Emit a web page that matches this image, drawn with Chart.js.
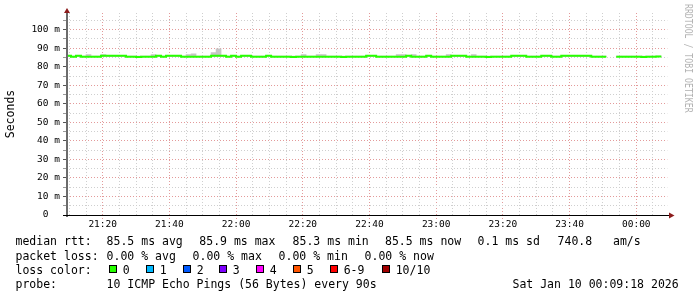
<!DOCTYPE html>
<html>
<head>
<meta charset="utf-8">
<script src="https://cdn.jsdelivr.net/npm/chart.js@4.4.1/dist/chart.umd.min.js"></script>
<style>
html,body{margin:0;padding:0;background:#fff;width:697px;height:297px;overflow:hidden;}
#wrap{position:relative;width:697px;height:297px;}
#c{position:absolute;left:0;top:0;}
.t{position:absolute;font-family:'DejaVu Sans Mono',monospace;font-size:11.5px;line-height:14.1px;white-space:pre;color:#000;}
.box{position:absolute;top:265px;width:8px;height:8px;box-sizing:border-box;border:1px solid #000;}
#wm{position:absolute;left:692.8px;top:4px;font-family:'DejaVu Sans Mono',monospace;font-size:10px;line-height:10px;white-space:pre;color:#b4b4b4;transform-origin:0 0;transform:rotate(90deg) scaleX(0.82);}
</style>
</head>
<body>
<div id="wrap">
<canvas id="c" width="697" height="297"></canvas>

<div class="t" style="top:234.4px;left:15.5px">median rtt:</div>
<div class="t" style="top:234.4px;left:106.6px">85.5 ms avg</div>
<div class="t" style="top:234.4px;left:199.3px">85.9 ms max</div>
<div class="t" style="top:234.4px;left:292.6px">85.3 ms min</div>
<div class="t" style="top:234.4px;left:385px">85.5 ms now</div>
<div class="t" style="top:234.4px;left:477.6px">0.1 ms sd</div>
<div class="t" style="top:234.4px;left:557.6px">740.8   am/s</div>

<div class="t" style="top:248.5px;left:15.5px">packet loss:</div>
<div class="t" style="top:248.5px;left:106.6px">0.00 % avg</div>
<div class="t" style="top:248.5px;left:192.6px">0.00 % max</div>
<div class="t" style="top:248.5px;left:278.6px">0.00 % min</div>
<div class="t" style="top:248.5px;left:364.6px">0.00 % now</div>

<div class="t" style="top:262.6px;left:15.5px">loss color:</div>
<div id="losslegend"></div>

<div class="t" style="top:276.7px;left:15.5px">probe:</div>
<div class="t" style="top:276.7px;left:106.6px">10 ICMP Echo Pings (56 Bytes) every 90s</div>
<div class="t" style="top:276.7px;left:512.5px">Sat Jan 10 00:09:18 2026</div>

<div id="wm">RRDTOOL / TOBI OETIKER</div>
</div>

<script>
// ---- time axis (minutes after 21:00) ----
const xMin = 9.3;            // 21:09:18
const xMax = 189.3;          // 00:09:18
const startMinute = 9;       // first 90 s step boundary (21:09:00)
const stepMinutes = 1.5;     // 90 s probe step

const xTickMinutes = [10,15,20,25,30,35,40,45,50,55,60,65,70,75,80,85,90,95,100,105,110,115,120,125,130,135,140,145,150,155,160,165,170,175,180,185];
const xLabelMinutes = [20,40,60,80,100,120,140,160,180];
const xLabelTexts   = ['21:20','21:40','22:00','22:20','22:40','23:00','23:20','23:40','00:00'];

const yTickValues = [0,5,10,15,20,25,30,35,40,45,50,55,60,65,70,75,80,85,90,95,100,105];
const yLabelValues = [0,10,20,30,40,50,60,70,80,90,100];
const yLabelTexts  = ['0  ','10 m','20 m','30 m','40 m','50 m','60 m','70 m','80 m','90 m','100 m'];

// ---- median RTT per 90 s step (ms) ----
const medianRtt = [
  85.9, 85.4, 85.9, 85.4, 85.4, 85.4, 85.4, 85.9, 85.9, 85.9,
  85.9, 85.9, 85.4, 85.4, 85.3, 85.4, 85.4, 85.4, 85.9, 85.4,
  85.9, 85.9, 85.9, 85.4, 85.4, 85.4, 85.4, 85.4, 85.4, 85.9,
  85.9, 85.9, 85.4, 85.9, 85.4, 85.9, 85.9, 85.4, 85.4, 85.4,
  85.9, 85.4, 85.4, 85.4, 85.4, 85.3, 85.4, 85.4, 85.4, 85.4,
  85.4, 85.4, 85.4, 85.4, 85.4, 85.3, 85.4, 85.4, 85.4, 85.4,
  85.9, 85.9, 85.4, 85.4, 85.4, 85.4, 85.4, 85.4, 85.9, 85.4,
  85.4, 85.4, 85.9, 85.4, 85.4, 85.4, 85.4, 85.9, 85.9, 85.9,
  85.4, 85.4, 85.4, 85.4, 85.3, 85.4, 85.4, 85.4, 85.4, 85.9,
  85.9, 85.9, 85.4, 85.4, 85.4, 85.9, 85.9, 85.4, 85.4, 85.9,
  85.9, 85.9, 85.9, 85.9, 85.9, 85.4, 85.4, 85.4, null, null,
  85.4, 85.4, 85.4, 85.4, 85.4, 85.3, 85.4, 85.4, 85.5
];

// ---- smoke (spread of the 10 pings) per step (ms) ----
const smokeLow = [
  85.4, 85.4, 85.4, 85.4, 85.4, 85.4, 85.4, 85.4, 85.4, 85.4,
  85.4, 85.4, 85.4, 85.4, 85.4, 85.4, 85.4, 85.4, 85.4, 85.4,
  85.4, 85.4, 85.4, 85.4, 85.4, 85.4, 85.4, 85.4, 85.4, 85.4,
  85.4, 85.4, 85.4, 85.4, 85.4, 85.4, 85.4, 85.4, 85.4, 85.4,
  85.4, 85.4, 85.4, 85.4, 85.4, 85.4, 85.4, 85.4, 85.4, 85.4,
  85.4, 85.4, 85.4, 85.4, 85.4, 85.4, 85.4, 85.4, 85.4, 85.4,
  85.4, 85.4, 85.4, 85.4, 85.4, 85.4, 85.4, 85.4, 85.4, 85.4,
  85.4, 85.4, 85.4, 85.4, 85.4, 85.4, 85.4, 85.4, 85.4, 85.4,
  85.4, 85.4, 85.4, 85.4, 85.4, 85.4, 85.4, 85.4, 85.4, 85.4,
  85.4, 85.4, 85.4, 85.4, 85.4, 85.4, 85.4, 85.4, 85.4, 85.4,
  85.4, 85.4, 85.4, 85.4, 85.4, 85.4, 85.4, 85.4, null, null,
  85.4, 85.4, 85.4, 85.4, 85.4, 85.4, 85.4, 85.4, 85.4
];
const smokeHigh = [
  85.8, 85.8, 85.8, 85.8, 86.5, 85.8, 85.8, 86.5, 85.8, 85.8,
  85.8, 85.8, 85.8, 85.8, 85.8, 85.8, 85.8, 86.5, 85.8, 85.8,
  85.8, 85.8, 85.8, 85.8, 86.5, 87.0, 85.8, 85.8, 85.8, 87.6,
  89.7, 85.8, 85.8, 85.8, 85.8, 85.8, 85.8, 85.8, 85.8, 85.8,
  85.8, 85.8, 85.8, 85.8, 85.8, 85.8, 85.8, 86.5, 85.8, 85.8,
  86.5, 86.5, 85.8, 85.8, 85.8, 85.8, 85.8, 85.8, 85.8, 85.8,
  85.8, 85.8, 85.8, 85.8, 85.8, 85.8, 86.5, 86.5, 85.8, 86.5,
  85.8, 85.8, 85.8, 85.8, 85.8, 85.8, 86.5, 85.8, 85.8, 85.8,
  85.8, 86.5, 85.8, 85.8, 85.8, 85.8, 85.8, 85.8, 85.8, 85.8,
  85.8, 85.8, 85.8, 85.8, 85.8, 85.8, 85.8, 85.8, 85.8, 85.8,
  85.8, 85.8, 85.8, 85.8, 85.8, 85.8, 85.8, 85.8, null, null,
  85.8, 85.8, 85.8, 85.8, 85.8, 85.8, 85.8, 85.8, 85.8
];

// ---- loss colour legend ----
const lossLabels = ['0','1','2','3','4','5','6-9','10/10'];
const lossColors = ['#26ff00','#00b8ff','#0059ff','#7e00ff','#ff00ff','#ff5500','#ff0000','#a10000'];
const lossBoxX   = [109,146,183,219,256,293,330,382];

(function buildLossLegend(){
  const host = document.getElementById('losslegend');
  lossLabels.forEach((lab,i)=>{
    const b = document.createElement('div');
    b.className = 'box';
    b.style.left = lossBoxX[i] + 'px';
    b.style.background = lossColors[i];
    host.appendChild(b);
    const t = document.createElement('div');
    t.className = 't';
    t.style.top = '262.6px';
    t.style.left = (lossBoxX[i] + 13.7) + 'px';
    t.textContent = lab;
    host.appendChild(t);
  });
})();

// ---- datasets ----
const lineData = [];
medianRtt.forEach((v,k)=>{
  const s = startMinute + k*stepMinutes;
  if (v === null) { lineData.push({x: s + stepMinutes/2, y: null}); }
  else { lineData.push({x: s, y: v}, {x: s + stepMinutes, y: v}); }
});
const smokeData = medianRtt.map((v,k)=>{
  const c = startMinute + k*stepMinutes + stepMinutes/2;
  return {x: c, y: smokeHigh[k] === null ? null : [smokeLow[k], smokeHigh[k]]};
});

const MAJ_GRID = '#e39a9a';
const MIN_GRID = '#cfcfcf';
const GRID_DASH = [1,2];
const tickFont = {family: 'DejaVu Sans Mono', size: 9.5};

const axesPlugin = {
  id: 'rrdAxes',
  afterDraw(chart){
    const ctx = chart.ctx;
    const a = chart.chartArea;
    ctx.save();
    // y axis
    ctx.strokeStyle = '#6b6b6b';
    ctx.lineWidth = 2;
    ctx.beginPath();
    ctx.moveTo(a.left, a.bottom + 2);
    ctx.lineTo(a.left, a.top - 1);
    ctx.stroke();
    // x axis
    ctx.strokeStyle = '#000';
    ctx.lineWidth = 1;
    ctx.beginPath();
    ctx.moveTo(a.left - 4, a.bottom + 0.5);
    ctx.lineTo(a.right + 2, a.bottom + 0.5);
    ctx.stroke();
    // arrows
    ctx.fillStyle = '#8c1c1c';
    ctx.beginPath();
    ctx.moveTo(a.left - 3, a.top);
    ctx.lineTo(a.left + 3, a.top);
    ctx.lineTo(a.left, a.top - 5);
    ctx.closePath();
    ctx.fill();
    ctx.beginPath();
    ctx.moveTo(a.right + 1.7, a.bottom - 2.5);
    ctx.lineTo(a.right + 1.7, a.bottom + 3.5);
    ctx.lineTo(a.right + 7.2, a.bottom + 0.5);
    ctx.closePath();
    ctx.fill();
    ctx.restore();
  }
};

new Chart(document.getElementById('c'), {
  type: 'bar',
  data: {
    datasets: [
      {
        type: 'bar',
        data: smokeData,
        backgroundColor: '#c6c6c6',
        borderWidth: 0,
        barPercentage: 1.0,
        categoryPercentage: 1.0,
        grouped: false,
        order: 2
      },
      {
        type: 'line',
        data: lineData,
        borderColor: '#26ff00',
        borderWidth: 2,
        pointRadius: 0,
        tension: 0,
        spanGaps: false,
        borderCapStyle: 'butt',
        borderJoinStyle: 'miter',
        order: 1
      }
    ]
  },
  options: {
    responsive: false,
    devicePixelRatio: 1,
    animation: false,
    events: [],
    layout: {padding: {left: 0, top: 13, right: 29.7, bottom: 0}},
    plugins: {legend: {display: false}, tooltip: {enabled: false}, title: {display: false}},
    scales: {
      x: {
        type: 'linear',
        min: xMin,
        max: xMax,
        offset: false,
        afterBuildTicks: s => { s.ticks = xTickMinutes.map(v => ({value: v})); },
        afterFit: s => { s.height = 82; },
        ticks: {
          autoSkip: false, maxRotation: 0, minRotation: 0, padding: 0,
          color: '#000', font: tickFont,
          callback: v => { const i = xLabelMinutes.indexOf(v); return i >= 0 ? xLabelTexts[i] : ''; }
        },
        grid: {
          offset: false,
          lineWidth: 1,
          color: c => (c.tick && c.tick.value % 20 === 0) ? MAJ_GRID : MIN_GRID,
          tickLength: 4,
          tickColor: c => (c.tick && c.tick.value % 20 === 0) ? MAJ_GRID : 'rgba(0,0,0,0)',
          tickBorderDash: GRID_DASH
        },
        border: {display: false, dash: GRID_DASH}
      },
      y: {
        type: 'linear',
        min: 0,
        max: 109,
        afterBuildTicks: s => { s.ticks = yTickValues.map(v => ({value: v})); },
        afterFit: s => { s.width = 67; },
        ticks: {
          autoSkip: false, padding: 3, color: '#000', font: tickFont,
          callback: v => { const i = yLabelValues.indexOf(v); return i >= 0 ? yLabelTexts[i] : ''; }
        },
        grid: {
          lineWidth: 1,
          color: c => {
            if (!c.tick || c.tick.value === 0) return 'rgba(0,0,0,0)';
            return c.tick.value % 10 === 0 ? MAJ_GRID : MIN_GRID;
          },
          tickLength: 4,
          tickColor: c => (c.tick && c.tick.value % 10 === 0) ? '#555' : '#999',
          tickBorderDash: []
        },
        border: {display: false, dash: GRID_DASH},
        title: {
          display: true, text: 'Seconds', color: '#000',
          font: {family: 'DejaVu Sans Mono', size: 11.5},
          padding: {top: 4.4, bottom: 0}
        }
      }
    }
  },
  plugins: [axesPlugin]
});
</script>
</body>
</html>
